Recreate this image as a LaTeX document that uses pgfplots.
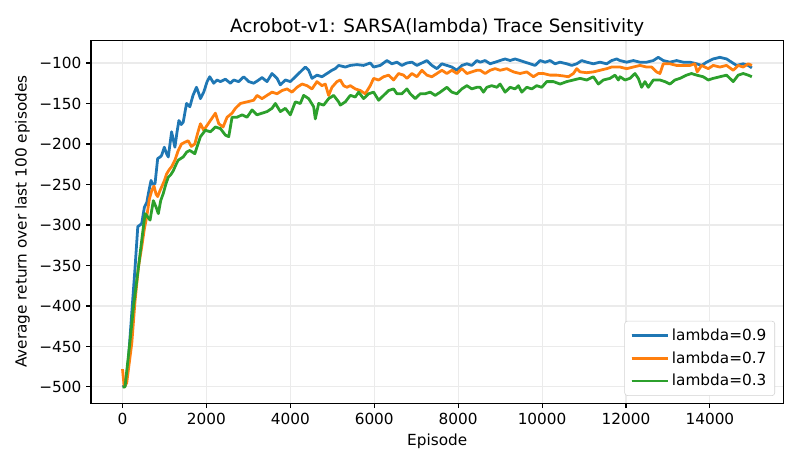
\documentclass[border=0pt]{standalone}
\usepackage{pgfplots}
\pgfplotsset{compat=1.18}
\usepackage{fontspec}
\setmainfont{DejaVu Sans}
\definecolor{tabblue}{HTML}{1F77B4}
\definecolor{taborange}{HTML}{FF7F0E}
\definecolor{tabgreen}{HTML}{2CA02C}
\definecolor{gridc}{HTML}{EBEBEB}
\begin{document}
\begin{tikzpicture}
\begin{axis}[
  scale only axis,
  width=498pt, height=261pt,
  xmin=-750, xmax=15750,
  ymin=-520, ymax=-72,
  scaled x ticks=false,
  xtick={0,2000,4000,6000,8000,10000,12000,14000},
  xticklabels={0,2000,4000,6000,8000,10000,12000,14000},
  ytick={-500,-450,-400,-350,-300,-250,-200,-150,-100},
  yticklabels={−500,−450,−400,−350,−300,−250,−200,−150,−100},
  tick align=outside,
  tick pos=left,
  major tick length=3.5pt,
  tick style={black, line width=0.8pt},
  axis line style={black, line width=0.8pt},
  grid=major,
  grid style={gridc, line width=0.8pt},
  tick label style={font=\fontsize{11}{13}\selectfont},
  label style={font=\fontsize{11}{13}\selectfont},
  title style={font=\fontsize{13.2}{15}\selectfont, yshift=-6.5pt},
  title={Acrobot-v1: SARSA(lambda) Trace Sensitivity},
  xlabel={Episode},
  ylabel={Average return over last 100 episodes},
  legend style={at={(0.988,0.02)}, anchor=south east, draw=gray!35, rounded corners=2pt,
    font=\fontsize{11}{13}\selectfont, row sep=2.5pt, inner xsep=4pt, inner ysep=3.5pt},
  legend cell align=left,
  legend image code/.code={\draw[#1, line width=2pt] (0pt,0pt) -- (22pt,0pt); \path (0pt,0pt) -- (26pt,0pt);},
  every axis plot/.append style={line width=2pt, line join=round},
]
\addplot[tabblue] table {
0 -500
70 -498
140 -467
220 -409
300 -352
364 -302
420 -300
458 -298
522 -278
580 -272
617 -261
680 -245
720 -250
775 -249
838 -218
900 -216
933 -214
996 -204
1050 -212
1091 -216
1170 -185
1249 -204
1300 -185
1344 -171
1400 -176
1447 -173
1526 -150
1605 -154
1680 -140
1763 -130
1820 -138
1857 -144
1936 -136
2016 -123
2079 -117
2174 -125
2254 -121
2333 -123
2452 -120
2571 -125
2651 -121
2770 -123
2889 -117
3008 -123
3127 -125
3246 -121
3325 -118
3444 -123
3563 -113
3683 -119
3762 -127
3881 -121
4000 -123
4119 -117
4238 -111
4357 -105
4437 -109
4516 -119
4635 -115
4754 -117
4873 -113
4992 -109
5071 -107
5151 -103
5310 -105
5429 -103
5588 -102
5747 -103
5905 -100
5985 -105
6143 -103
6302 -97
6421 -101
6540 -99
6659 -103
6778 -100
6897 -99
7017 -103
7175 -99
7255 -97
7374 -103
7493 -107
7612 -101
7731 -103
7850 -105
7969 -109
8088 -103
8207 -101
8326 -103
8445 -97
8524 -99
8643 -97
8762 -101
8881 -99
9000 -97
9119 -95
9238 -97
9357 -95
9476 -97
9595 -99
9715 -101
9834 -103
9953 -97
10072 -99
10191 -97
10310 -101
10429 -99
10588 -101
10707 -103
10826 -101
10945 -97
11064 -99
11223 -101
11381 -99
11540 -101
11659 -97
11778 -95
11857 -97
12016 -99
12174 -97
12333 -99
12492 -99
12651 -97
12770 -93
12889 -97
13048 -99
13206 -97
13365 -99
13524 -99
13683 -101
13802 -103
13921 -99
14079 -95
14238 -93
14397 -95
14516 -99
14635 -103
14794 -101
14913 -103
15000 -106
};
\addlegendentry{lambda=0.9}
\addplot[taborange] table {
0 -478
40 -500
100 -495
221 -446
300 -393
380 -352
458 -327
520 -305
577 -290
640 -268
700 -257
750 -252
800 -262
838 -265
890 -258
933 -253
1000 -245
1051 -237
1110 -232
1170 -228
1250 -220
1328 -208
1407 -200
1480 -198
1565 -196
1640 -203
1723 -200
1800 -185
1857 -175
1936 -183
2016 -177
2095 -171
2214 -162
2294 -175
2397 -179
2492 -167
2611 -162
2690 -156
2809 -150
2968 -148
3127 -146
3206 -140
3325 -144
3444 -140
3563 -136
3683 -138
3802 -134
3921 -132
4040 -136
4159 -130
4278 -126
4397 -128
4516 -132
4635 -123
4754 -128
4833 -126
4913 -140
4992 -130
5111 -123
5191 -121
5270 -128
5350 -130
5429 -128
5548 -132
5667 -134
5786 -138
5905 -128
5985 -119
6104 -121
6223 -117
6342 -115
6461 -121
6580 -113
6699 -115
6778 -119
6897 -113
7017 -117
7136 -109
7255 -115
7374 -117
7493 -113
7612 -109
7731 -113
7850 -109
7969 -113
8088 -107
8207 -113
8326 -111
8445 -109
8524 -109
8643 -113
8762 -109
8881 -107
9000 -109
9159 -107
9318 -111
9476 -113
9635 -111
9794 -117
9913 -113
10032 -113
10191 -115
10350 -115
10508 -116
10627 -117
10746 -113
10826 -107
10905 -111
11064 -112
11223 -111
11381 -109
11540 -107
11659 -105
11778 -105
11857 -105
12016 -107
12174 -105
12333 -103
12492 -105
12611 -105
12730 -111
12809 -113
12889 -101
13048 -101
13206 -103
13365 -103
13524 -103
13643 -101
13698 -111
13802 -103
13960 -107
14079 -103
14238 -105
14397 -103
14556 -109
14675 -103
14794 -105
14913 -101
15000 -103
};
\addlegendentry{lambda=0.7}
\addplot[tabgreen] table {
0 -500
60 -500
182 -442
261 -401
380 -352
460 -318
538 -286
600 -290
656 -294
735 -270
800 -278
854 -286
910 -270
972 -261
1030 -250
1091 -241
1150 -238
1210 -233
1270 -226
1328 -220
1447 -216
1530 -210
1605 -208
1723 -212
1800 -200
1857 -191
1976 -183
2095 -185
2214 -179
2333 -181
2452 -189
2532 -191
2611 -167
2730 -167
2849 -164
2968 -167
3087 -158
3206 -164
3325 -162
3444 -160
3563 -156
3643 -150
3762 -160
3881 -156
4000 -164
4119 -148
4238 -150
4317 -140
4437 -144
4556 -154
4595 -169
4675 -150
4794 -152
4913 -144
5032 -140
5151 -148
5191 -152
5310 -148
5429 -140
5548 -142
5628 -136
5747 -144
5866 -138
5985 -136
6104 -146
6223 -140
6342 -134
6461 -132
6540 -138
6659 -138
6778 -132
6858 -138
6977 -144
7096 -138
7215 -138
7334 -136
7453 -140
7572 -136
7731 -130
7850 -136
7969 -138
8088 -132
8207 -128
8326 -132
8445 -130
8524 -130
8603 -136
8683 -130
8802 -128
8921 -130
9000 -126
9119 -136
9238 -130
9357 -132
9437 -128
9516 -136
9635 -130
9754 -132
9873 -128
9992 -130
10111 -123
10270 -123
10429 -126
10588 -123
10746 -121
10905 -119
11064 -121
11223 -117
11342 -126
11461 -121
11619 -119
11738 -115
11818 -121
11857 -117
11976 -121
12095 -119
12214 -113
12294 -119
12373 -130
12452 -123
12532 -130
12651 -121
12809 -121
12928 -123
13048 -126
13167 -121
13286 -119
13444 -115
13563 -113
13683 -115
13841 -117
13960 -121
14079 -119
14238 -117
14397 -115
14556 -123
14675 -115
14794 -113
14913 -115
15000 -117
};
\addlegendentry{lambda=0.3}
\end{axis}
\pgfresetboundingbox
\useasboundingbox (current axis.south west) ++(-65.5pt,-46pt) rectangle ([shift={(12pt,29pt)}]current axis.north east);
\end{tikzpicture}
\end{document}
